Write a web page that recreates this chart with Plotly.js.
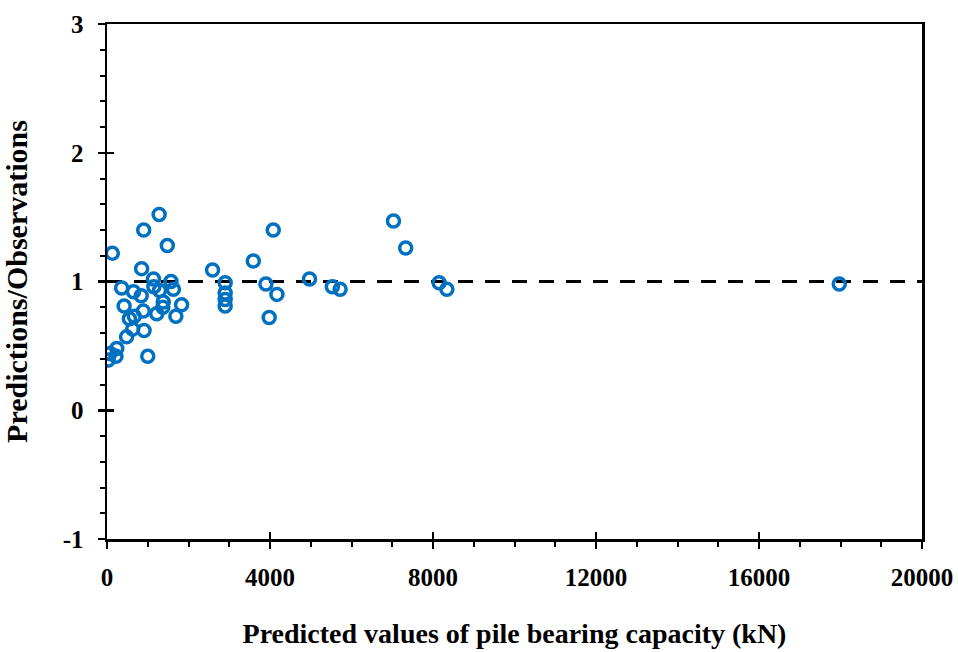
<!DOCTYPE html>
<html>
<head>
<meta charset="utf-8">
<script src="https://cdn.plot.ly/plotly-3.0.1.min.js"></script>
<style>html,body{margin:0;padding:0;background:#fff}#chart{width:958px;height:652px}</style>
</head>
<body>
<div id="chart"></div>
<script>
const predicted = [30, 75, 220, 240, 130, 360, 420, 480, 550, 630, 650, 670, 840, 850, 890, 900, 910, 1000,
  1140, 1150, 1220, 1280, 1290, 1370, 1380, 1480, 1570, 1630, 1690, 1830, 2590, 2900, 2900, 2900, 2900,
  3590, 3900, 3980, 4080, 4170, 4970, 5530, 5720, 7030, 7330, 8150, 8340, 17970];
const ratio = [0.39, 0.44, 0.42, 0.48, 1.22, 0.95, 0.81, 0.57, 0.71, 0.63, 0.92, 0.73, 0.89, 1.10, 0.77, 1.40, 0.62, 0.42,
  1.02, 0.96, 0.75, 1.52, 0.93, 0.80, 0.84, 1.28, 1.00, 0.94, 0.73, 0.82, 1.09, 0.99, 0.91, 0.86, 0.81,
  1.16, 0.98, 0.72, 1.40, 0.90, 1.02, 0.96, 0.94, 1.47, 1.26, 0.99, 0.94, 0.98];
const refX = [0, 20000];
const refY = [1, 1];
const xTickVals = [0, 4000, 8000, 12000, 16000, 20000];
const xTickText = ['0', '4000', '8000', '12000', '16000', '20000'];
const yTickVals = [-1, 0, 1, 2, 3];
const yTickText = ['-1', '0', '1', '2', '3'];
const xTitle = 'Predicted values of pile bearing capacity (kN)';
const yTitle = 'Predictions/Observations';

const font = 'Liberation Serif, Times New Roman, serif';
const traces = [
  {x: refX, y: refY, mode: 'lines', line: {color: '#000', width: 3, dash: '15px,12px'}, hoverinfo: 'skip', showlegend: false},
  {x: predicted, y: ratio, mode: 'markers', showlegend: false,
   marker: {symbol: 'circle-open', size: 12, color: '#0070C0', line: {width: 3.5, color: '#0070C0'}}},
  {x: [null], y: [null], xaxis: 'x2', yaxis: 'y2', showlegend: false}
];
const layout = {
  width: 958, height: 652,
  margin: {l: 107, r: 36, t: 24, b: 113},
  paper_bgcolor: '#fff', plot_bgcolor: '#fff',
  font: {family: font, color: '#000'},
  xaxis: {
    range: [0, 20000], tickmode: 'array', tickvals: xTickVals, ticktext: xTickText,
    showgrid: false, zeroline: false,
    showline: true, linecolor: '#000', linewidth: 2.5, mirror: true,
    ticks: 'outside', ticklen: 7, tickwidth: 2.5, tickcolor: '#000',
    minor: {dtick: 1000, tick0: 0, ticks: 'outside', ticklen: 5, tickwidth: 2, tickcolor: '#000', showgrid: false},
    tickfont: {family: font, size: 25, weight: 'bold'},
    ticklabelstandoff: 7,
    title: {text: xTitle, font: {family: font, size: 28, weight: 'bold'}, standoff: 34}
  },
  yaxis: {
    range: [-1, 3], tickmode: 'array', tickvals: yTickVals, ticktext: yTickText,
    showgrid: false, zeroline: false,
    showline: true, linecolor: '#000', linewidth: 2.5, mirror: true,
    ticks: 'outside', ticklen: 7, tickwidth: 2.5, tickcolor: '#000',
    minor: {dtick: 0.2, tick0: 0, ticks: 'outside', ticklen: 5, tickwidth: 2, tickcolor: '#000', showgrid: false},
    tickfont: {family: font, size: 25, weight: 'bold'},
    ticklabelstandoff: 9,
    title: {text: yTitle, font: {family: font, size: 30, weight: 'bold'}, standoff: 30}
  },
  xaxis2: {overlaying: 'x', anchor: 'y2', range: [0, 20000], dtick: 4000, tick0: 0, showgrid: false, zeroline: false,
    showline: false, ticks: 'inside', ticklen: 7, tickwidth: 2.5, tickcolor: '#000', showticklabels: false, side: 'bottom'},
  yaxis2: {overlaying: 'y', anchor: 'x2', range: [-1, 3], dtick: 1, tick0: 0, showgrid: false, zeroline: false,
    showline: false, ticks: 'inside', ticklen: 7, tickwidth: 2.5, tickcolor: '#000', showticklabels: false, side: 'left'}
};
Plotly.newPlot('chart', traces, layout, {displayModeBar: false, staticPlot: true});
</script>
</body>
</html>
